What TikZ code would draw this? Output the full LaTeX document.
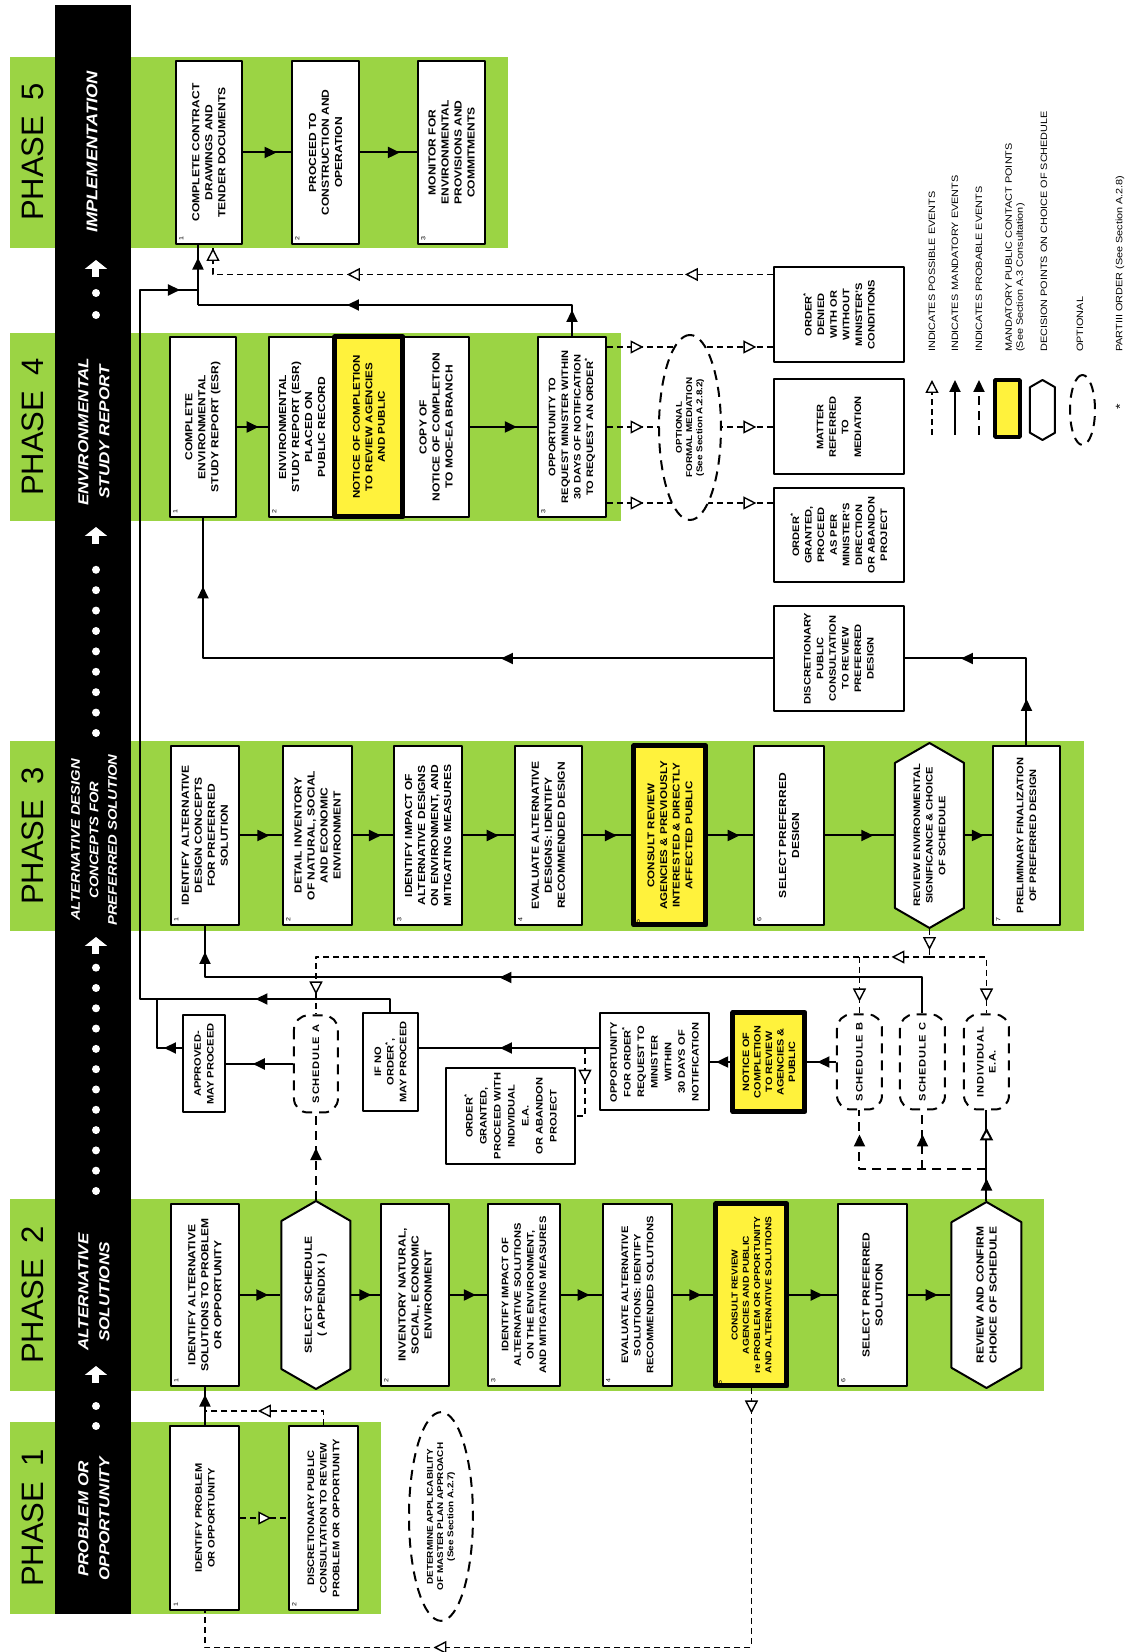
\documentclass[tikz,border=0pt]{standalone}
\usepackage{fontspec}
\setmainfont{Liberation Sans}[FakeStretch=1.18]
\newfontfamily\phasefont{Liberation Sans}
\usetikzlibrary{arrows.meta,decorations.markings,shapes.geometric,shapes.symbols,calc}

\definecolor{phasegreen}{RGB}{155,212,68}
\definecolor{noticeyellow}{RGB}{255,242,60}

\newcommand{\boxfont}{\bfseries\fontsize{10.2}{13}\selectfont}
\newcommand{\narrowbox}{\bfseries\fontsize{9.4}{12.6}\selectfont}
\newcommand{\smallbox}{\bfseries\fontsize{8.6}{11.2}\selectfont}

\tikzset{
  stepbox/.style={draw, line width=2pt, fill=white, align=center, inner sep=1pt,
    minimum width=182pt, minimum height=68pt, font=\boxfont},
  notice/.style={stepbox, fill=noticeyellow, line width=5pt, font=\bfseries\fontsize{9.8}{12.6}\selectfont},
  hexa/.style={signal, signal to=east and west, signal pointer angle=120, draw,
    line width=2pt, fill=white, align=center, inner sep=1pt, font=\boxfont},
  sched/.style={draw, line width=2pt, dash pattern=on 10pt off 7pt, rounded corners=14pt,
    fill=white, align=center, inner sep=1pt, minimum width=95pt, minimum height=45pt,
    font=\bfseries\fontsize{9.4}{12}\selectfont\addfontfeature{LetterSpace=8}},
  optional/.style={ellipse, draw, line width=2pt, dash pattern=on 10pt off 7pt, fill=white,
    align=center, inner sep=0pt, font=\bfseries\fontsize{8.4}{10.2}\selectfont},
  num/.style={font=\fontsize{6}{6}\selectfont, anchor=north west, inner sep=4pt},
  mand/.style={line width=2pt},
  possible/.style={line width=1.4pt, dash pattern=on 6pt off 4pt},
  probable/.style={line width=2pt, dash pattern=on 9pt off 6pt},
  fa/.style={postaction={decorate, decoration={markings,
    mark=at position #1 with {\arrow{Triangle[length=12pt,width=11pt]}}}}},
  oa/.style={postaction={decorate, decoration={markings,
    mark=at position #1 with {\arrow{Triangle[length=13pt,width=13pt,fill=white]}}}}},
  phaselbl/.style={font=\phasefont\fontsize{31}{31}\selectfont},
  bandtxt/.style={text=white, align=center, font=\bfseries\itshape\fontsize{14.5}{21}\selectfont},
  bandarrow/.style={white, line width=7pt, -{Triangle[length=9pt,width=22pt]}},
  legtxt/.style={anchor=west, align=left, inner sep=0pt, font=\fontsize{9.2}{11}\selectfont}
}

\begin{document}
\begin{tikzpicture}[rotate=90, transform shape, x=1pt, y=1pt, line join=round]
\useasboundingbox (0,0) rectangle (1652,1127);
% ==================== PHASE BANDS ====================
\fill[phasegreen] (38,746) rectangle (230,1117);
\fill[phasegreen] (261,83) rectangle (453,1117);
\fill[phasegreen] (721,43) rectangle (911,1117);
\fill[phasegreen] (1131,506) rectangle (1319,1117);
\fill[phasegreen] (1404,619) rectangle (1595,1117);
\fill[black] (38,996) rectangle (1647,1072);
\node[phaselbl] (ph1) at (134,1094) {PHASE\hspace{.5em}1};
\node[phaselbl] (ph2) at (357,1094) {PHASE\hspace{.5em}2};
\node[phaselbl] (ph3) at (816,1094) {PHASE\hspace{.5em}3};
\node[phaselbl] (ph4) at (1225,1094) {PHASE\hspace{.5em}4};
\node[phaselbl] (ph5) at (1500,1094) {PHASE\hspace{.5em}5};
\node[bandtxt] (bt1) at (133,1033) {PROBLEM OR\\OPPORTUNITY};
\node[bandtxt] (bt2) at (360,1033) {ALTERNATIVE\\SOLUTIONS};
\node[bandtxt, font=\bfseries\itshape\fontsize{12.5}{18.5}\selectfont] (bt3) at (812,1033) {ALTERNATIVE DESIGN\\CONCEPTS FOR\\PREFERRED SOLUTION};
\node[bandtxt] (bt4) at (1220,1033) {ENVIRONMENTAL\\STUDY REPORT};
\node[bandtxt, font=\bfseries\itshape\fontsize{15.5}{21}\selectfont] (bt5) at (1500,1035) {IMPLEMENTATION};
\foreach \x in {226,246,461,481.3,...,690,919,939.4,...,1085,1337,1359}
  \fill[white] (\x,1031) circle (4);
\foreach \x in {269,698,1108,1375}
  \draw[bandarrow] (\x,1031) -- ++(17,0);
% ==================== PHASE 1 ====================
\node[stepbox, font=\narrowbox, minimum width=184pt, minimum height=69pt, label={[num]north west:1}] (p1a) at (134,922) {IDENTIFY PROBLEM\\OR OPPORTUNITY};
\node[stepbox, font=\narrowbox, minimum width=184pt, minimum height=69pt, label={[num]north west:2}] (p1b) at (134,803.5) {DISCRETIONARY PUBLIC\\CONSULTATION TO REVIEW\\PROBLEM OR OPPORTUNITY};
\node[optional, minimum width=189pt, minimum height=64pt] (p1opt) at (135.5,686) {DETERMINE APPLICABILITY\\OF MASTER PLAN APPROACH\\(See Section A.2.7)};
% ==================== PHASE 2 ====================
\node[stepbox, label={[num]north west:1}] (p2a) at (357,922) {IDENTIFY ALTERNATIVE\\SOLUTIONS TO PROBLEM\\OR OPPORTUNITY};
\node[hexa, minimum width=188pt, minimum height=69pt] (p2hex) at (357,811) {SELECT SCHEDULE\\( APPENDIX I )};
\node[stepbox, label={[num]north west:2}] (p2b) at (357,712) {INVENTORY NATURAL,\\SOCIAL, ECONOMIC\\ENVIRONMENT};
\node[stepbox, font=\narrowbox, minimum height=72pt, label={[num]north west:3}] (p2c) at (357,603) {IDENTIFY IMPACT OF\\ALTERNATIVE SOLUTIONS\\ON THE ENVIRONMENT,\\AND MITIGATING MEASURES};
\node[stepbox, font=\narrowbox, minimum height=69pt, label={[num]north west:4}] (p2d) at (357,489.5) {EVALUATE ALTERNATIVE\\SOLUTIONS: IDENTIFY\\RECOMMENDED SOLUTIONS};
\node[notice, minimum height=71pt, font=\smallbox, label={[num]north west:5}] (p2e) at (357,375.5) {CONSULT REVIEW\\AGENCIES AND PUBLIC\\re PROBLEM OR OPPORTUNITY\\AND ALTERNATIVE SOLUTIONS};
\node[stepbox, minimum height=69pt, label={[num]north west:6}] (p2f) at (357,254.5) {SELECT PREFERRED\\SOLUTION};
\node[hexa, minimum width=186pt, minimum height=70pt] (p2hex2) at (357,140.5) {REVIEW AND CONFIRM\\CHOICE OF SCHEDULE};
% ==================== PHASE 3 ====================
\node[stepbox, minimum width=179pt, label={[num]north west:1}] (p3a) at (816.5,922) {IDENTIFY ALTERNATIVE\\DESIGN CONCEPTS\\FOR PREFERRED\\SOLUTION};
\node[stepbox, minimum width=179pt, minimum height=69pt, label={[num]north west:2}] (p3b) at (816.5,809.5) {DETAIL INVENTORY\\OF NATURAL, SOCIAL\\AND ECONOMIC\\ENVIRONMENT};
\node[stepbox, minimum width=179pt, label={[num]north west:3}] (p3c) at (816.5,699) {IDENTIFY IMPACT OF\\ALTERNATIVE DESIGNS\\ON ENVIRONMENT, AND\\MITIGATING MEASURES};
\node[stepbox, minimum width=179pt, minimum height=67pt, label={[num]north west:4}] (p3d) at (816.5,578.5) {EVALUATE ALTERNATIVE\\DESIGNS: IDENTIFY\\RECOMMENDED DESIGN};
\node[notice, minimum width=179pt, minimum height=72pt, label={[num]north west:5}] (p3e) at (816.5,457) {CONSULT REVIEW\\AGENCIES \& PREVIOUSLY\\INTERESTED \& DIRECTLY\\AFFECTED PUBLIC};
\node[stepbox, minimum width=179pt, minimum height=70pt, label={[num]north west:6}] (p3f) at (816.5,338) {SELECT PREFERRED\\DESIGN};
\node[hexa, font=\narrowbox, minimum width=185pt, minimum height=69pt] (p3hex) at (816.5,197.5) {REVIEW ENVIRONMENTAL\\SIGNIFICANCE \& CHOICE\\OF SCHEDULE};
\node[stepbox, font=\narrowbox, minimum width=179pt, minimum height=67pt, label={[num]north west:7}] (p3g) at (816.5,100.5) {PRELIMINARY FINALIZATION\\OF PREFERRED DESIGN};
% ==================== PHASE 4 ====================
\node[stepbox, minimum width=180pt, minimum height=66pt, label={[num]north west:1}] (p4a) at (1225,924) {COMPLETE\\ENVIRONMENTAL\\STUDY REPORT (ESR)};
\node[stepbox, minimum width=180pt, minimum height=66pt, label={[num]north west:2}] (p4b) at (1225,825) {ENVIRONMENTAL\\STUDY REPORT (ESR)\\PLACED ON\\PUBLIC RECORD};
\node[stepbox, minimum width=180pt, minimum height=66pt] (p4copy) at (1225,691) {COPY OF\\NOTICE OF COMPLETION\\TO MOE-EA BRANCH};
\node[notice, minimum width=180pt, minimum height=68pt] (p4n) at (1225,758) {NOTICE OF COMPLETION\\TO REVIEW AGENCIES\\AND PUBLIC};
\node[stepbox, font=\narrowbox, minimum width=180pt, minimum height=68pt, label={[num]north west:3}] (p4c) at (1225,555) {OPPORTUNITY TO\\REQUEST MINISTER WITHIN\\30 DAYS OF NOTIFICATION\\TO REQUEST AN ORDER\textsuperscript{*}};
% ==================== PHASE 5 ====================
\node[stepbox, minimum width=183pt, minimum height=66pt, label={[num]north west:1}] (p5a) at (1499.5,918) {COMPLETE CONTRACT\\DRAWINGS AND\\TENDER DOCUMENTS};
\node[stepbox, minimum width=183pt, minimum height=67pt, label={[num]north west:2}] (p5b) at (1499.5,801.5) {PROCEED TO\\CONSTRUCTION AND\\OPERATION};
\node[stepbox, minimum width=183pt, minimum height=67pt, label={[num]north west:3}] (p5c) at (1499.5,675.5) {MONITOR FOR\\ENVIRONMENTAL\\PROVISIONS AND\\COMMITMENTS};
% ==================== ORDERS AND MEDIATION ====================
\node[stepbox, font=\narrowbox, minimum width=95pt, minimum height=130pt] (ordden) at (1337.5,288) {ORDER\textsuperscript{*}\\DENIED\\WITH OR\\WITHOUT\\MINISTER'S\\CONDITIONS};
\node[stepbox, font=\narrowbox, minimum width=95pt, minimum height=130pt] (matter) at (1225,288) {MATTER\\REFERRED\\TO\\MEDIATION};
\node[stepbox, font=\narrowbox, minimum width=94pt, minimum height=130pt] (ordgr) at (1117,288) {ORDER\textsuperscript{*}\\GRANTED,\\PROCEED\\AS PER\\MINISTER'S\\DIRECTION\\OR ABANDON\\PROJECT};
\node[stepbox, font=\narrowbox, minimum width=105pt, minimum height=130pt] (discr) at (993.5,288) {DISCRETIONARY\\PUBLIC\\CONSULTATION\\TO REVIEW\\PREFERRED\\DESIGN};
% ==================== SCHEDULES ====================
\node[stepbox, font=\narrowbox, minimum width=97pt, minimum height=42pt] (approved) at (588,923) {APPROVED-\\MAY PROCEED};
\node[sched, minimum width=97pt, minimum height=44pt] (schedA) at (588,811) {SCHEDULE A};
\node[stepbox, font=\narrowbox, minimum width=98pt, minimum height=55pt] (ifno) at (590,736.5) {IF NO\\ORDER\textsuperscript{*},\\MAY PROCEED};
\node[stepbox, font=\bfseries\fontsize{9.4}{14}\selectfont, minimum width=96pt, minimum height=129pt] (ordind) at (536,616.5) {ORDER\textsuperscript{*}\\GRANTED,\\PROCEED WITH\\INDIVIDUAL\\E.A.\\OR ABANDON\\PROJECT};
\node[stepbox, font=\bfseries\fontsize{9.4}{13.6}\selectfont, minimum width=97pt, minimum height=109pt] (oppord) at (590,472.5) {OPPORTUNITY\\FOR ORDER\textsuperscript{*}\\REQUEST TO\\MINISTER\\WITHIN\\30 DAYS OF\\NOTIFICATION};
\node[notice, minimum width=99pt, minimum height=72pt, font=\bfseries\fontsize{9.2}{11.5}\selectfont] (notice2) at (590,358) {NOTICE OF\\COMPLETION\\TO REVIEW\\AGENCIES \&\\PUBLIC};
\node[sched] (schedB) at (590,267.5) {SCHEDULE B};
\node[sched] (schedC) at (590,204.5) {SCHEDULE C};
\node[sched] (indea) at (590,140.5) {INDIVIDUAL\\E.A.};
% ==================== CONNECTORS ====================
\coordinate (j1) at (241,922);
\coordinate (jA) at (653,970);
\coordinate (jL) at (653,987);
\coordinate (jT) at (1347,929);
\coordinate (jT2) at (1362,929);
\coordinate (jH) at (695,197.5);
\coordinate (jR) at (483,140.5);
\coordinate (b1) at (604,542);
\coordinate (m1) at ($(p4c.south)+(80,0)$);
\coordinate (m3) at ($(p4c.south)+(-76,0)$);
% phase 1 and 2
\draw[mand, fa=0.8] (p1a.east) -- (p2a.west);
\draw[possible, oa=0.6] (p1b.east) -| (j1);
\draw[possible, oa=0.65] (p1a.south) -- (p1b.north);
\draw[possible, oa=25pt, oa=577pt] (p2e.west) -- ++(-259,0) |- (p1a.west);
\foreach \a/\b in {p2a/p2hex, p2hex/p2b, p2b/p2c, p2c/p2d, p2d/p2e, p2e/p2f, p2f/p2hex2,
  p3a/p3b, p3b/p3c, p3c/p3d, p3d/p3e, p3e/p3f, p3f/p3hex, p3hex/p3g,
  p4a/p4b, p4copy/p4c, p5a/p5b, p5b/p5c}
  \draw[mand, fa=0.7] (\a.south) -- (\b.north);
% schedules
\draw[probable, fa=0.6] (p2hex.east) -- (schedA.west);
\draw[mand, fa=0.6] (schedA.north) -- (approved.south);
\draw[mand, fa=18pt] ($(approved.north)+(16,0)$) |- (jA);
\draw[mand, fa=148pt, fa=-18pt] (ifno.east) -| (jL) -| (jT2);
\draw[mand, fa=0.7] (p2hex2.east) -- (jR);
\draw[mand, oa=-17pt] (jR) -- (indea.west);
\draw[probable, fa=-24pt] (jR) |- (schedB.west);
\draw[probable, fa=-24pt] (jR |- schedC.west) -- (schedC.west);
\draw[mand, fa=0.65] (schedB.north) -- (notice2.south);
\draw[mand, fa=0.7] (notice2.north) -- (oppord.south);
\draw[mand, fa=0.55] ($(oppord.north)+(14,0)$) -- ($(ifno.south)+(14,0)$);
\draw[possible, oa=0.45] (b1) -| (ordind.south);
\draw[mand, fa=459pt, fa=-26pt] (schedC.east) -- ++(36,0) |- (p3a.west);
\draw[possible, oa=0.75] (p3hex.west) -- (jH);
\draw[possible, oa=38pt, oa=-20pt] (jH) |- (schedA.east);
\draw[possible, oa=-12pt] (jH) |- (indea.east);
\draw[possible, oa=-12pt] (jH |- schedB.east) -- (schedB.east);
% phase 3 to 5
\draw[mand, fa=46pt, fa=152pt] (p3g.east) -| (discr.south);
\draw[mand, fa=272pt, fa=642pt] (discr.north) |- (p4a.west);
\draw[possible, oa=0.22, oa=0.9] (m1) -- (m1 |- ordden.north);
\draw[possible, oa=0.22, oa=0.9] (p4c.south) -- (matter.north);
\draw[possible, oa=0.22, oa=0.9] (m3) -- (m3 |- ordgr.north);
\node[optional, minimum width=185pt, minimum height=62pt] (med) at (1224.5,437) {OPTIONAL\\FORMAL MEDIATION\\(See Section A.2.8.2)};
\draw[mand, fa=26pt, fa=256pt] (p4c.east) -| (jT);
\draw[mand, fa=0.79] (jT) -- (jT -| p5a.west);
\draw[possible, oa=88pt, oa=426pt, oa=-3pt] ($(ordden.north)+(40,0)$) |- ($(p5a.west)+(0,-4)$);
% ==================== LEGEND ====================
\draw[possible, -{Triangle[length=13pt,width=13pt,fill=white]}] (1217,195) -- (1272,195);
\draw[mand, -{Triangle[length=12pt,width=11pt]}] (1217,172) -- (1272,172);
\draw[probable, -{Triangle[length=12pt,width=11pt]}] (1217,148) -- (1272,148);
\node[notice, minimum width=57pt, minimum height=25pt, line width=3.5pt] (lg4) at (1243.5,119.5) {};
\node[hexa, minimum width=60pt, minimum height=25pt] (lg5) at (1242,84.5) {};
\node[optional, minimum width=70pt, minimum height=25pt] (lg6) at (1242,44.5) {};
\node[font=\fontsize{12}{12}\selectfont] (lg7) at (1245,7) {*};
\node[legtxt] (lt1) at (1300,195) {INDICATES POSSIBLE EVENTS};
\node[legtxt] (lt2) at (1300,172) {INDICATES\, MANDATORY EVENTS};
\node[legtxt] (lt3) at (1300,148) {INDICATES PROBABLE EVENTS};
\node[legtxt] (lt4) at (1300,112) {MANDATORY PUBLIC CONTACT POINTS\\(See Section A.3 Consultation)};
\node[legtxt] (lt5) at (1300,83) {DECISION POINTS ON CHOICE OF SCHEDULE};
\node[legtxt] (lt6) at (1300,47) {OPTIONAL};
\node[legtxt] (lt7) at (1300,7) {PARTIII ORDER (See Section A.2.8)};
\end{tikzpicture}
\end{document}
